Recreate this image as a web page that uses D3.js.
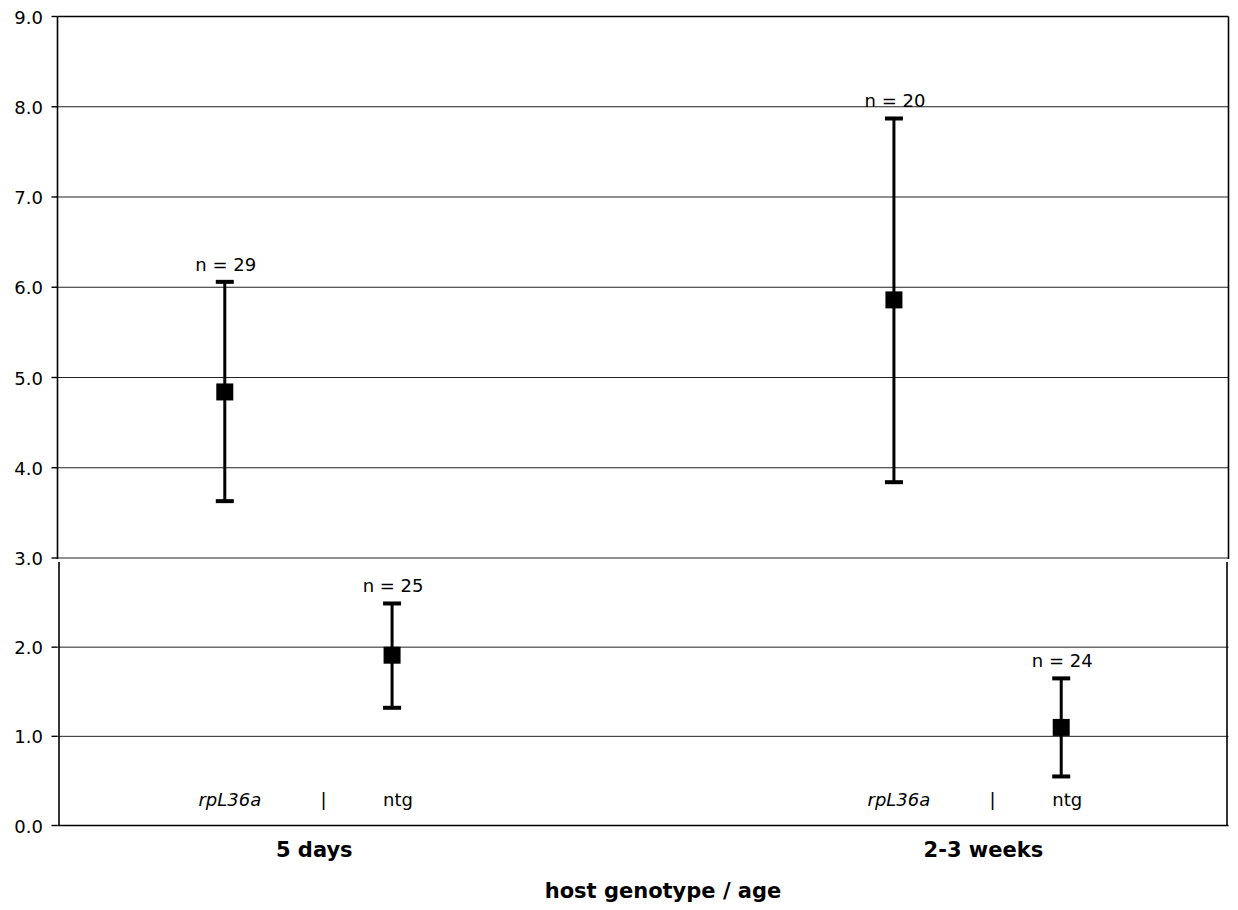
<!DOCTYPE html>
<html>
<head>
<meta charset="utf-8">
<script src="https://cdn.jsdelivr.net/npm/d3@7"></script>
<style>
  html, body { margin: 0; padding: 0; background: #fff; }
  svg { display: block; }
  text { font-family: "DejaVu Sans", Verdana, sans-serif; fill: #000; }
</style>
</head>
<body>
<svg id="chart" width="1238" height="910"></svg>
<script>
// ---- data ----
const groups = ["5 days", "2-3 weeks"];
const genotypes = ["rpL36a", "ntg"];
// per group, per genotype
const means = [[4.84, 1.91], [5.86, 1.10]];
const upper = [[6.06, 2.49], [7.87, 1.65]];
const lower = [[3.63, 1.32], [3.84, 0.55]];
const nLabels = [["n = 29", "n = 25"], ["n = 20", "n = 24"]];
const yTicks = [0, 1, 2, 3, 4, 5, 6, 7, 8, 9];
const axisTitle = "host genotype / age";

// ---- layout ----
const svg = d3.select("#chart");
const left = 57.5, right = 1228.5;
const x = d3.scaleLinear().domain([0, 7]).range([left, right]);
// broken axis: two panels (0-3 and 3-9)
const y = d3.scaleLinear().domain([0, 3, 9]).range([825.5, 558, 16.5]);
const slot = (g, j) => g * 4 + j + 1;

const rows = [];
groups.forEach((g, gi) => genotypes.forEach((t, ji) => rows.push({
  g: gi, j: ji, mean: means[gi][ji], hi: upper[gi][ji], lo: lower[gi][ji], n: nLabels[gi][ji]
})));

// gridlines
svg.append("g").selectAll("line").data(yTicks.filter(v => v > 0 && v < 9)).join("line")
  .attr("x1", left).attr("x2", right)
  .attr("y1", d => y(d)).attr("y2", d => y(d))
  .attr("stroke", "#222").attr("stroke-width", 1);

// frame: upper panel
const gap = 4;
const frame = svg.append("g").attr("stroke", "#000").attr("stroke-width", 1.6).attr("fill", "none");
frame.append("line").attr("x1", left).attr("x2", right).attr("y1", y(9)).attr("y2", y(9));
frame.append("line").attr("x1", left).attr("x2", left).attr("y1", y(9)).attr("y2", y(3) + 1);
frame.append("line").attr("x1", right).attr("x2", right).attr("y1", y(9)).attr("y2", y(3) + 1);
// lower panel
frame.append("line").attr("x1", left + 1.5).attr("x2", left + 1.5).attr("y1", y(3) + gap).attr("y2", y(0));
frame.append("line").attr("x1", right - 1.5).attr("x2", right - 1.5).attr("y1", y(3) + gap).attr("y2", y(0));
frame.append("line").attr("x1", left).attr("x2", right).attr("y1", y(0)).attr("y2", y(0));

// y ticks and labels
const ticks = svg.append("g");
ticks.selectAll("line").data(yTicks).join("line")
  .attr("x1", left - 6).attr("x2", left)
  .attr("y1", d => y(d)).attr("y2", d => y(d))
  .attr("stroke", "#000").attr("stroke-width", 1.4);
ticks.selectAll("text").data(yTicks).join("text")
  .attr("x", 43).attr("y", d => y(d) + 7)
  .attr("text-anchor", "end").attr("font-size", 18)
  .text(d => d3.format(".1f")(d));

// error bars
const eb = svg.append("g");
eb.selectAll("line.v").data(rows).join("line").attr("class", "v")
  .attr("x1", d => x(slot(d.g, d.j))).attr("x2", d => x(slot(d.g, d.j)))
  .attr("y1", d => y(d.hi)).attr("y2", d => y(d.lo))
  .attr("stroke", "#000").attr("stroke-width", 3);
["hi", "lo"].forEach(k => {
  eb.selectAll("rect.c" + k).data(rows).join("rect").attr("class", "c" + k)
    .attr("x", d => x(slot(d.g, d.j)) - 9).attr("width", 18)
    .attr("y", d => y(d[k]) - 2).attr("height", 4)
    .attr("fill", "#000");
});
// markers
eb.selectAll("rect.m").data(rows).join("rect").attr("class", "m")
  .attr("x", d => x(slot(d.g, d.j)) - 8.5).attr("width", 17)
  .attr("y", d => y(d.mean) - 8.5).attr("height", 17)
  .attr("fill", "#000");
// n labels
eb.selectAll("text.n").data(rows).join("text").attr("class", "n")
  .attr("x", d => x(slot(d.g, d.j)) + 1).attr("y", d => y(d.hi) - 11)
  .attr("text-anchor", "middle").attr("font-size", 18)
  .text(d => d.n);

// genotype labels inside plot
const gl = svg.append("g");
gl.selectAll("text.geno").data(rows).join("text").attr("class", "geno")
  .attr("x", d => x(slot(d.g, d.j)) + (d.j === 0 ? 5 : 6)).attr("y", 806)
  .attr("text-anchor", "middle").attr("font-size", 18)
  .attr("font-style", d => d.j === 0 ? "italic" : "normal")
  .text(d => genotypes[d.j]);
gl.selectAll("text.sep").data(groups).join("text").attr("class", "sep")
  .attr("x", (d, i) => x(i * 4 + 1.59)).attr("y", 806)
  .attr("text-anchor", "middle").attr("font-size", 18)
  .text("|");

// group labels
svg.append("g").selectAll("text").data(groups).join("text")
  .attr("x", (d, i) => x(i * 4 + 1.535)).attr("y", 857)
  .attr("text-anchor", "middle").attr("font-size", 21).attr("font-weight", "bold")
  .text(d => d);

// axis title
svg.append("text")
  .attr("x", (x(0) + x(7)) / 2 + 20).attr("y", 898)
  .attr("text-anchor", "middle").attr("font-size", 21).attr("font-weight", "bold")
  .text(axisTitle);
</script>
</body>
</html>
